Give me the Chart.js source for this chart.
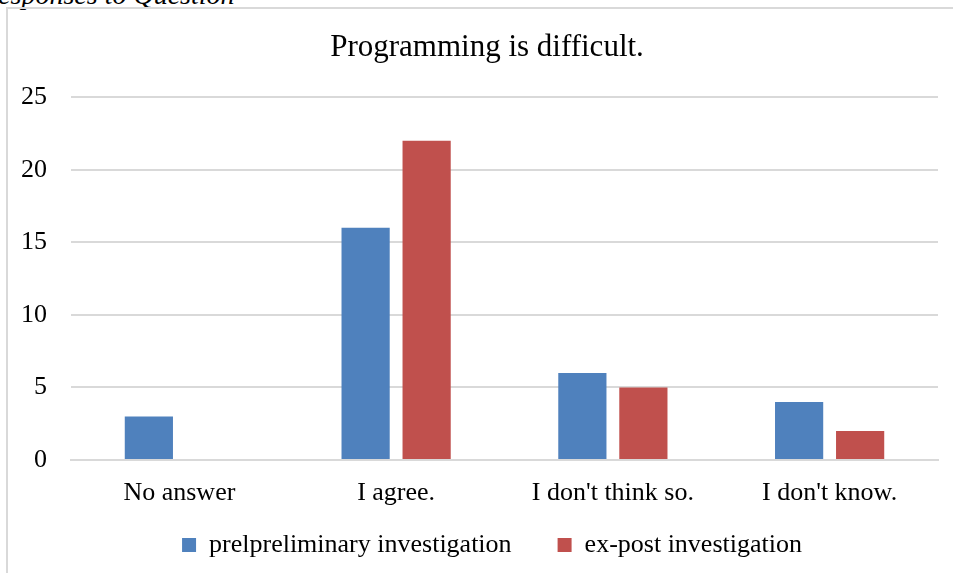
<!DOCTYPE html>
<html>
<head>
<meta charset="utf-8">
<script src="https://cdn.jsdelivr.net/npm/chart.js@4.4.1/dist/chart.umd.min.js"></script>
<style>
  html, body { margin: 0; padding: 0; background: #fff; width: 953px; height: 573px; overflow: hidden; }
  #caption { position: absolute; left: -19px; top: -19px; font: italic 28px/1 "Liberation Serif", serif; color: #000; white-space: nowrap; }
  #frame { position: absolute; left: 6px; top: 7px; width: 947px; height: 566px; border-left: 2px solid #d9d9d9; border-top: 2px solid #d9d9d9; }
  #wrap { position: absolute; left: 0; top: 0; width: 953px; height: 573px; }
</style>
</head>
<body>
<div id="caption">Responses to Question</div>
<div id="frame"></div>
<div id="wrap"><canvas id="c" width="953" height="573"></canvas></div>
<script>
const categories = ["No answer", "I agree.", "I don't think so.", "I don't know."];
const preliminary = [3, 16, 6, 4];
const expost = [0, 22, 5, 2];
const seriesNames = ["prelpreliminary investigation", "ex-post investigation"];
const yTicks = [0, 5, 10, 15, 20, 25];
const titleText = "Programming is difficult.";

const FONT = '"Liberation Serif", "Times New Roman", serif';
const LEGEND_FONT = 26;
const LEGEND_GAP = 46;

// Nudge the title and legend: centred a little right of the canvas middle,
// with the legend row sitting just below the category labels.
const placeBlocks = {
  id: 'placeBlocks',
  afterLayout(chart) {
    // the category labels hang below the (short) x-axis box; let them draw there
    chart.scales.x.bottom = chart.height;
    const t = chart.titleBlock;
    if (t) { t.left += 18; t.right += 18; }
    const lg = chart.legend;
    if (lg) {
      const wantCenter = chart.chartArea.bottom + 85;
      const haveCenter = lg.top + LEGEND_GAP + LEGEND_FONT / 2;
      const dy = wantCenter - haveCenter;
      lg.top += dy; lg.bottom += dy;
      lg.left += 23; lg.right += 23;
    }
  }
};

new Chart(document.getElementById('c'), {
  type: 'bar',
  data: {
    labels: categories,
    datasets: [
      { label: seriesNames[0], data: preliminary, backgroundColor: '#4F81BD', borderWidth: 0 },
      { label: seriesNames[1], data: expost, backgroundColor: '#C0504D', borderWidth: 0 }
    ]
  },
  plugins: [placeBlocks],
  options: {
    responsive: false,
    animation: false,
    devicePixelRatio: 1,
    categoryPercentage: 0.563,
    barPercentage: 0.79,
    layout: { padding: { left: 0, right: 15, top: 29, bottom: 0 } },
    plugins: {
      title: {
        display: true,
        text: titleText,
        color: '#000',
        font: { family: FONT, size: 31, weight: 'normal', lineHeight: 1.2 },
        padding: { top: 0, bottom: 31 }
      },
      legend: {
        position: 'bottom',
        labels: {
          color: '#000',
          font: { family: FONT, size: LEGEND_FONT },
          boxWidth: 14,
          boxHeight: 14,
          padding: LEGEND_GAP
        }
      },
      tooltip: { enabled: false }
    },
    scales: {
      x: {
        afterFit: (s) => { s.height = 31; },
        grid: { display: false, drawTicks: false },
        border: { display: true, color: '#d9d9d9', width: 2 },
        ticks: { color: '#000', font: { family: FONT, size: 26, lineHeight: 1.2 }, padding: 18, maxRotation: 0 }
      },
      y: {
        min: 0,
        max: 25,
        afterBuildTicks: (s) => { s.ticks = yTicks.map(v => ({ value: v })); },
        afterFit: (s) => { s.width = 71; },
        grid: { color: '#d9d9d9', lineWidth: 2, drawTicks: false },
        border: { display: false },
        ticks: { color: '#000', font: { family: FONT, size: 26 }, padding: 24 }
      }
    }
  }
});
</script>
</body>
</html>
